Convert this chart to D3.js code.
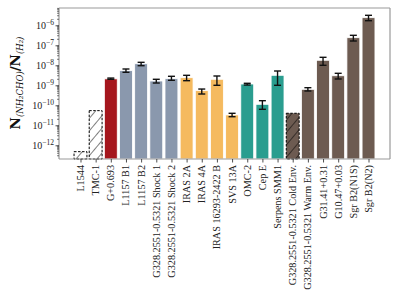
<!DOCTYPE html>
<html><head><meta charset="utf-8">
<script src="https://cdn.jsdelivr.net/npm/d3@7"></script>
<style>body{margin:0;background:#fff;} svg{display:block;}</style>
</head><body>
<svg id="c" width="399" height="299"></svg>
<script>
const categories = ["L1544","TMC-1","G+0.693","L1157 B1","L1157 B2","G328.2551-0.5321 Shock 1","G328.2551-0.5321 Shock 2","IRAS 2A","IRAS 4A","IRAS 16293-2422 B","SVS 13A","OMC-2","Cep E","Serpens SMM1","G328.2551-0.5321 Cold Env.","G328.2551-0.5321 Warm Env.","G31.41+0.31","G10.47+0.03","Sgr B2(N1S)","Sgr B2(N2)"];
const values  = [4.8e-13,5.4e-11,2.1e-9,5.4e-9,1.2e-8,1.64e-9,2.14e-9,2.4e-9,5.4e-10,2.0e-9,3.3e-11,1.16e-9,1.12e-10,3.16e-9,4.0e-11,6.3e-10,1.78e-8,3.0e-9,2.4e-7,2.4e-6];
const errLow  = [null,null,2.0e-9,4.47e-9,9.55e-9,1.30e-9,1.78e-9,1.70e-9,3.67e-10,1.0e-9,2.69e-11,1.03e-9,6.3e-11,1.0e-9,null,5.19e-10,1.0e-8,2.07e-9,1.64e-7,1.70e-6];
const errHigh = [null,null,2.3e-9,6.53e-9,1.41e-8,2.0e-9,2.82e-9,3.16e-9,6.5e-10,2.92e-9,3.98e-11,1.26e-9,1.70e-10,5.19e-9,null,7.6e-10,2.51e-8,3.98e-9,3.16e-7,3.16e-6];
const groups  = ["upper","upper","red","blue","blue","blue","blue","orange","orange","orange","orange","teal","teal","teal","upperBrown","brown","brown","brown","brown","brown"];
const tickExps = [-12,-11,-10,-9,-8,-7,-6];

const colors = {red:"#a5161d", blue:"#8a98ad", orange:"#f5ba5f", teal:"#2a9d8f", brown:"#6d5b51", upper:"#ffffff", upperBrown:"#6d5b51"};

const svg = d3.select("#c");
const L=59, R=390, T=8, B=159;
const n = categories.length;
const unit = (R-L)/(n-1+0.85+2*0.05*(n-1+0.85));
const x = d3.scaleLinear().domain([-0.425-0.05*(n-1+0.85), n-1+0.425+0.05*(n-1+0.85)]).range([L,R]);
const y = d3.scaleLog().domain([Math.pow(10,-12.685), Math.pow(10,-5.135)]).range([B,T]);
const bw = 0.85*unit;

const defs = svg.append("defs");
function hatch(id, bg){
  const p = defs.append("pattern").attr("id",id).attr("patternUnits","userSpaceOnUse")
    .attr("width",8).attr("height",8).attr("patternTransform","rotate(40)");
  p.append("rect").attr("width",8).attr("height",8).attr("fill",bg);
  p.append("line").attr("x1",0).attr("y1",0).attr("x2",0).attr("y2",8).attr("stroke","#000").attr("stroke-width",1);
}
hatch("h1","#ffffff");
hatch("h2",colors.brown);

const yAxis = d3.axisLeft(y).tickValues(tickExps.map(e=>Math.pow(10,e))).tickSize(3.5).tickFormat(()=> "");
const minor = [];
for(let e=-13;e<=-5;e++) for(let k=2;k<=9;k++){const v=k*Math.pow(10,e); if(v>=y.domain()[0]&&v<=y.domain()[1]) minor.push(v);}

categories.forEach((c,i)=>{
  const g = groups[i];
  const isUpper = g==="upper"||g==="upperBrown";
  const x0 = x(i)-bw/2, yt = y(values[i]);
  svg.append("rect").attr("x",x0).attr("y",yt).attr("width",bw).attr("height",B-yt)
    .attr("fill", g==="upper"?"url(#h1)":g==="upperBrown"?"url(#h2)":colors[g])
    .attr("stroke", isUpper?"#000":"#fff").attr("stroke-width", isUpper?1:0.8)
    .attr("stroke-dasharray", isUpper?"2.5,1.5":null);
});
categories.forEach((c,i)=>{
  if(errLow[i]==null) return;
  const cx = x(i), y1=y(errHigh[i]), y2=y(errLow[i]);
  const eg = svg.append("g").attr("stroke","#111").attr("stroke-width",1.4);
  eg.append("line").attr("x1",cx).attr("x2",cx).attr("y1",y1).attr("y2",y2);
  eg.append("line").attr("x1",cx-3.5).attr("x2",cx+3.5).attr("y1",y1).attr("y2",y1);
  eg.append("line").attr("x1",cx-3.5).attr("x2",cx+3.5).attr("y1",y2).attr("y2",y2);
});

svg.append("line").attr("x1",L).attr("x2",R).attr("y1",T).attr("y2",T).attr("stroke","#999").attr("stroke-width",1.2);
svg.append("line").attr("x1",R).attr("x2",R).attr("y1",T).attr("y2",B).attr("stroke","#999").attr("stroke-width",1.2);
svg.append("line").attr("x1",L).attr("x2",R).attr("y1",B).attr("y2",B).attr("stroke","#999").attr("stroke-width",1.2);
svg.append("line").attr("x1",L).attr("x2",L).attr("y1",T).attr("y2",B).attr("stroke","#999").attr("stroke-width",1.2);

const ya = svg.append("g").attr("transform",`translate(${L},0)`).call(yAxis);
ya.select(".domain").remove();
ya.selectAll(".tick line").attr("stroke","#222").attr("stroke-width",0.8);
ya.selectAll(".minor").data(minor).enter().append("line").attr("class","minor")
  .attr("x1",0).attr("x2",-2).attr("y1",d=>y(d)).attr("y2",d=>y(d)).attr("stroke","#222").attr("stroke-width",0.6);
tickExps.forEach(e=>{
  const t = svg.append("text").attr("x",L-5).attr("y",y(Math.pow(10,e))+3.5).attr("text-anchor","end")
    .attr("font-family","Liberation Serif, serif").attr("font-size",10).attr("fill","#222");
  t.append("tspan").text("10");
  t.append("tspan").attr("dy",-4).attr("font-size",7.5).text("\u2212"+Math.abs(e));
});

const xa = svg.append("g").attr("transform",`translate(0,${B})`)
  .call(d3.axisBottom(x).tickValues(d3.range(n)).tickSize(3.5).tickFormat(()=>""));
xa.select(".domain").remove();
xa.selectAll(".tick line").attr("stroke","#222").attr("stroke-width",0.8);
categories.forEach((c,i)=>{
  svg.append("text").attr("transform",`translate(${x(i)+3.5},${B+6}) rotate(-90)`).attr("text-anchor","end")
    .attr("font-family","Liberation Serif, serif").attr("font-size",10.2).attr("fill","#222").text(c);
});

const yl = svg.append("text").attr("transform","translate(20,83) rotate(-90)").attr("text-anchor","middle")
  .attr("font-family","DejaVu Serif, serif").attr("font-weight","bold").attr("font-size",13.5).attr("fill","#111");
yl.append("tspan").text("N");
yl.append("tspan").attr("dy",3).attr("font-size",8.5).attr("font-style","italic").attr("font-weight","normal").text("(NH\u2082CHO)");
yl.append("tspan").attr("dy",-3).text("/N");
yl.append("tspan").attr("dy",3).attr("font-size",8.5).attr("font-style","italic").attr("font-weight","normal").text("(H\u2082)");
</script>
</body></html>
